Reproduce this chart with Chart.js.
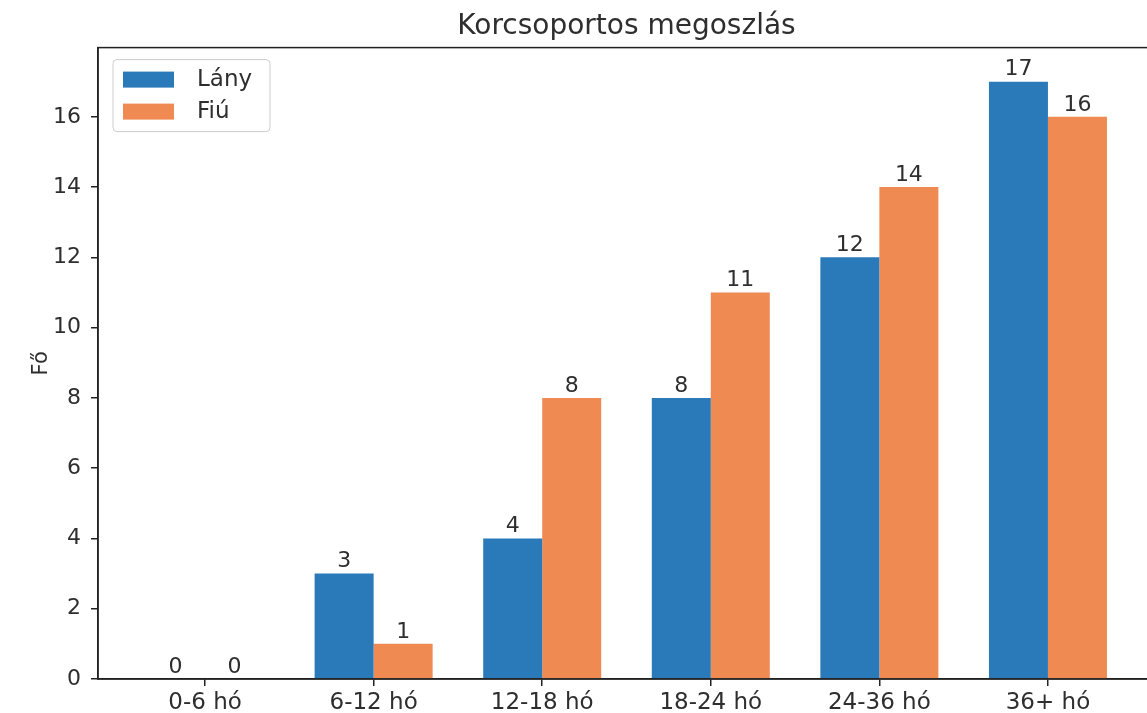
<!DOCTYPE html>
<html>
<head>
<meta charset="utf-8">
<script src="https://cdn.jsdelivr.net/npm/chart.js@4"></script>
<style>
  body { margin: 0; overflow: hidden; background: #fff; }
  canvas { display: block; }
</style>
</head>
<body>
<canvas id="chart" width="1160" height="713"></canvas>
<script>
const categories = ["0-6 hó", "6-12 hó", "12-18 hó", "18-24 hó", "24-36 hó", "36+ hó"];
const lany = [0, 3, 4, 8, 12, 17];
const fiu = [0, 1, 8, 11, 14, 16];
const yTicks = [0, 2, 4, 6, 8, 10, 12, 14, 16];

const BLUE = "#2a7ab9";
const ORANGE = "#ef8a52";
const TEXT = "#2e2e2e";
const AXIS = "#222";
const FONT = "'DejaVu Sans', sans-serif";

// bar value labels on top of each bar
const barLabels = {
  id: "barLabels",
  afterDatasetsDraw(chart) {
    const ctx = chart.ctx;
    ctx.save();
    ctx.font = "22px " + FONT;
    ctx.fillStyle = TEXT;
    ctx.textAlign = "center";
    ctx.textBaseline = "bottom";
    chart.data.datasets.forEach((ds, i) => {
      chart.getDatasetMeta(i).data.forEach((bar, j) => {
        ctx.fillText(ds.data[j].y, bar.x, bar.y - 1);
      });
    });
    ctx.restore();
  }
};

// matplotlib style frame + legend inside the axes
const frameAndLegend = {
  id: "frameAndLegend",
  afterDraw(chart) {
    const ctx = chart.ctx;
    const a = chart.chartArea;
    ctx.save();
    ctx.strokeStyle = AXIS;
    ctx.lineWidth = 1.5;
    ctx.strokeRect(a.left, a.top, a.right - a.left, a.bottom - a.top);

    const lx = a.left + 15, ly = a.top + 12;
    ctx.beginPath();
    ctx.roundRect(lx, ly, 157, 72, 4);
    ctx.fillStyle = "rgba(255,255,255,0.8)";
    ctx.fill();
    ctx.strokeStyle = "#cccccc";
    ctx.lineWidth = 1;
    ctx.stroke();

    ctx.font = "23px " + FONT;
    ctx.textBaseline = "middle";
    ctx.textAlign = "left";
    chart.data.datasets.forEach((ds, i) => {
      const y = ly + 12 + i * 32;
      ctx.fillStyle = ds.backgroundColor;
      ctx.fillRect(lx + 10, y, 51, 16);
      ctx.fillStyle = TEXT;
      ctx.fillText(ds.label, lx + 84, y + 8);
    });
    ctx.restore();
  }
};

new Chart(document.getElementById("chart"), {
  type: "bar",
  data: {
    datasets: [
      {
        label: "Lány",
        data: lany.map((v, i) => ({ x: i, y: v })),
        backgroundColor: BLUE
      },
      {
        label: "Fiú",
        data: fiu.map((v, i) => ({ x: i, y: v })),
        backgroundColor: ORANGE
      }
    ]
  },
  options: {
    responsive: false,
    animation: false,
    categoryPercentage: 0.7,
    barPercentage: 1.0,
    layout: { padding: { top: 0, right: 5, left: 0, bottom: 0 } },
    plugins: {
      legend: { display: false },
      tooltip: { enabled: false },
      title: {
        display: true,
        text: "Korcsoportos megoszlás",
        fullSize: false,
        color: TEXT,
        font: { family: FONT, size: 28, weight: "normal" },
        padding: { top: 10, bottom: 4 }
      }
    },
    scales: {
      x: {
        type: "linear",
        min: -0.635,
        max: 5.635,
        offset: false,
        afterBuildTicks: (scale) => {
          scale.ticks = categories.map((_, i) => ({ value: i }));
        },
        afterFit: (scale) => { scale.height = 34; },
        ticks: {
          callback: (v) => categories[v],
          color: TEXT,
          font: { family: FONT, size: 23 },
          padding: 3,
          maxRotation: 0,
          autoSkip: false
        },
        grid: {
          display: true,
          drawOnChartArea: false,
          drawTicks: true,
          tickLength: 7,
          offset: false,
          color: AXIS,
          lineWidth: 1.5
        },
        border: { display: true, color: AXIS, width: 1.5 }
      },
      y: {
        min: 0,
        max: 17.97,
        afterBuildTicks: (scale) => {
          scale.ticks = yTicks.map((v) => ({ value: v }));
        },
        afterFit: (scale) => { scale.width = 98; },
        ticks: {
          color: TEXT,
          font: { family: FONT, size: 22 },
          padding: 10
        },
        grid: {
          display: true,
          drawOnChartArea: false,
          drawTicks: true,
          tickLength: 7,
          color: AXIS,
          lineWidth: 1.5
        },
        border: { display: true, color: AXIS, width: 1.5 },
        title: {
          display: true,
          text: "Fő",
          color: TEXT,
          font: { family: FONT, size: 21 },
          padding: { top: 29, bottom: 0 }
        }
      }
    }
  },
  plugins: [barLabels, frameAndLegend]
});
</script>
</body>
</html>
